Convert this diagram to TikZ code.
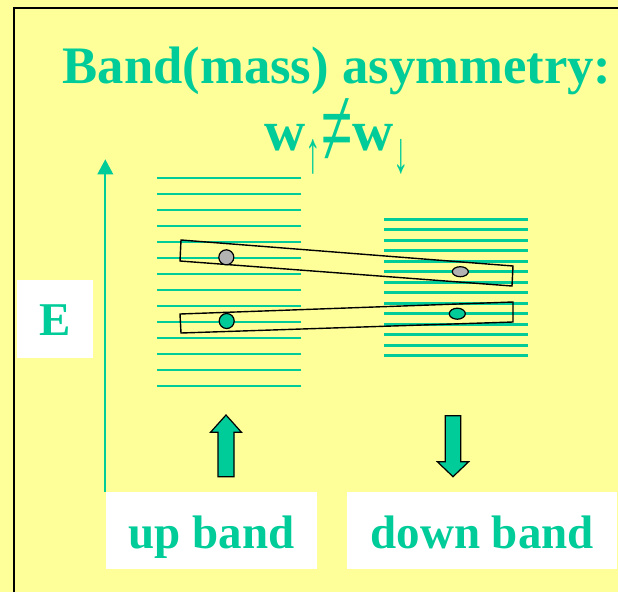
\documentclass[tikz,border=0pt]{standalone}
\usepackage{fontspec}
\setmainfont{Liberation Serif}
\usepackage{tikz}
\usetikzlibrary{positioning,arrows.meta}
\definecolor{BandGreen}{RGB}{0,204,153}
\definecolor{SlideYellow}{RGB}{255,255,153}
\definecolor{SpinGray}{RGB}{178,178,178}
\newcommand{\spinsub}[1]{\raisebox{-22pt}{\scalebox{1}[1.9]{\mdseries\fontsize{31}{31}\selectfont #1}}}

\begin{document}
\begin{tikzpicture}[
    x=1pt,y=-1pt,
    title/.style={
        anchor=base,
        inner sep=0,
        text=BandGreen,
        font=\bfseries\fontsize{52.7}{60}\selectfont
    },
    label/.style={
        fill=white,
        inner sep=0,
        text=BandGreen,
        font=\bfseries\fontsize{47}{54}\selectfont
    },
    level/.style={
        draw=BandGreen,
        line width=2.7pt
    },
    bar/.style={
        draw=black,
        line width=1.4pt,
        line join=miter
    },
    spin/.style={
        draw=black,
        line width=1.2pt
    },
    blockarrow/.style={
        draw=black,
        fill=BandGreen,
        line width=1.2pt
    },
    axis/.style={
        -{Triangle[length=15pt,width=15.5pt]},
        draw=BandGreen,
        line width=2pt
    }
]
\useasboundingbox (0,0) rectangle (618,592);
\fill[SlideYellow] (0,0) rectangle (618,592);
\draw[line width=2pt] (14,592) -- (14,8) -- (618,8);

% title
\node[title] (head) at (337,83) {Band(mass) asymmetry:};
\node[title,font=\bfseries\fontsize{57}{60}\selectfont] (ratio) at (337,150)
{w\spinsub{↑}\raisebox{-16pt}{\scalebox{1}[2.0]{\mdseries ≠}}w\spinsub{↓}};

% energy levels of the two bands
\foreach \i in {0,...,13}
    \draw[level] (157,178+16*\i) -- (301,178+16*\i);
\foreach \i in {0,...,13}
    \draw[level] (384,219.3+10.5*\i) -- (528,219.3+10.5*\i);

% hopping windows
\draw[bar] (181,240) -- (513,266) -- (512,286) -- (180,261) -- cycle;
\draw[bar] (180,314) -- (513,302) -- (513,322) -- (181,333) -- cycle;

\draw[spin,fill=SpinGray] (226.3,257.3) circle[radius=7.5];
\draw[spin,fill=SpinGray] (460.3,271.7) ellipse[x radius=8,y radius=5];
\draw[spin,fill=BandGreen] (226.7,321) circle[radius=7.5];
\draw[spin,fill=BandGreen] (457.3,313.7) ellipse[x radius=8,y radius=5.5];

% spin arrows
\draw[blockarrow] (218,476.7) -- (218,432.3) -- (210.5,432.3) -- (226,415)
    -- (241.5,432.3) -- (234,432.3) -- (234,476.7) -- cycle;
\draw[blockarrow] (445.3,415.7) -- (460.7,415.7) -- (460.7,461.7) -- (468.7,461.7)
    -- (453,476.7) -- (437.3,461.7) -- (445.3,461.7) -- cycle;

% labels
\node[label,anchor=north west,minimum width=211.7pt,text height=56pt,text depth=21pt] (up)
at (105.3,492) {up band};

\node[label,anchor=north west,minimum width=270pt,text height=56pt,text depth=21pt] (down)
at (347,492) {down band};

\node[label,anchor=north west,minimum width=75.7pt,text height=55pt,text depth=22.7pt] (energy)
at (17,280) {E\hspace{7pt}};

\coordinate (top) at (105.3,159.3);

\draw[axis]
(up.north west) -- (top);

\end{tikzpicture}
\end{document}
